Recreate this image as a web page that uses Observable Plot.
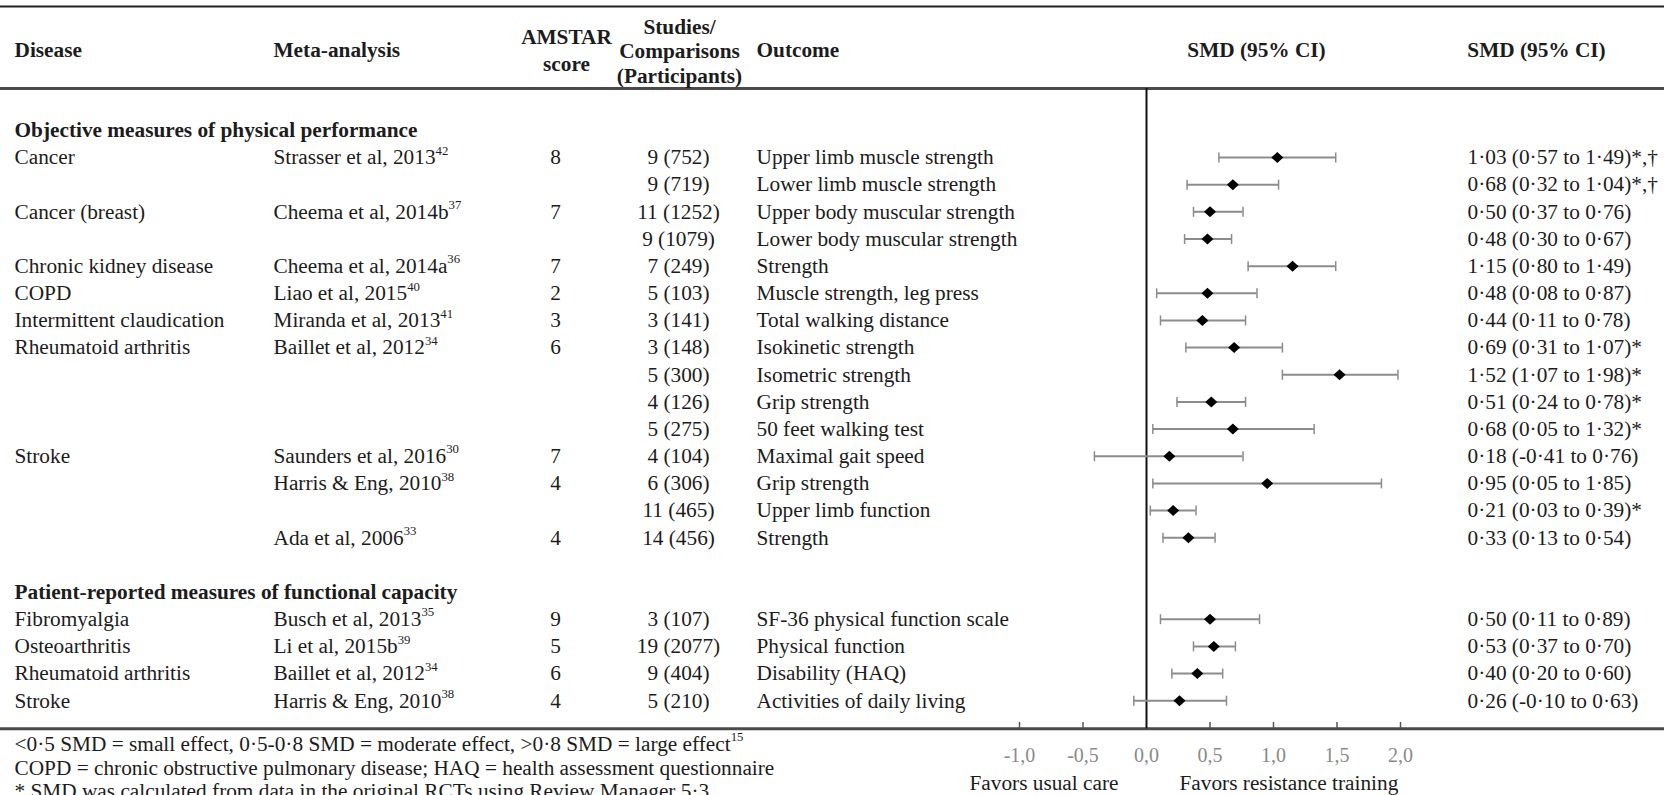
<!DOCTYPE html>
<html>
<head>
<meta charset="utf-8">
<script src="https://cdn.jsdelivr.net/npm/d3@7"></script>
<script src="https://cdn.jsdelivr.net/npm/@observablehq/plot@0.6"></script>
<style>
  html, body { margin: 0; padding: 0; background: #fff; }
  #chart svg { display: block; }
</style>
</head>
<body>
<div id="chart"></div>
<script>
// ---------------- data ----------------
const sections = ["Objective measures of physical performance", "Patient-reported measures of functional capacity"];
const group = [0,0,0,0,0,0,0,0,0,0,0,0,0,0,0, 1,1,1,1];
const disease = ["Cancer", "", "Cancer (breast)", "", "Chronic kidney disease", "COPD", "Intermittent claudication", "Rheumatoid arthritis", "", "", "", "Stroke", "", "", "",
                 "Fibromyalgia", "Osteoarthritis", "Rheumatoid arthritis", "Stroke"];
const metaAnalysis = ["Strasser et al, 2013^42", "", "Cheema et al, 2014b^37", "", "Cheema et al, 2014a^36", "Liao et al, 2015^40", "Miranda et al, 2013^41", "Baillet et al, 2012^34", "", "", "", "Saunders et al, 2016^30", "Harris & Eng, 2010^38", "", "Ada et al, 2006^33",
                      "Busch et al, 2013^35", "Li et al, 2015b^39", "Baillet et al, 2012^34", "Harris & Eng, 2010^38"];
const amstar = ["8", "", "7", "", "7", "2", "3", "6", "", "", "", "7", "4", "", "4", "9", "5", "6", "4"];
const studies = ["9 (752)", "9 (719)", "11 (1252)", "9 (1079)", "7 (249)", "5 (103)", "3 (141)", "3 (148)", "5 (300)", "4 (126)", "5 (275)", "4 (104)", "6 (306)", "11 (465)", "14 (456)",
                 "3 (107)", "19 (2077)", "9 (404)", "5 (210)"];
const outcome = ["Upper limb muscle strength", "Lower limb muscle strength", "Upper body muscular strength", "Lower body muscular strength", "Strength", "Muscle strength, leg press", "Total walking distance", "Isokinetic strength", "Isometric strength", "Grip strength", "50 feet walking test", "Maximal gait speed", "Grip strength", "Upper limb function", "Strength",
                 "SF-36 physical function scale", "Physical function", "Disability (HAQ)", "Activities of daily living"];
const smd = [1.03, 0.68, 0.50, 0.48, 1.15, 0.48, 0.44, 0.69, 1.52, 0.51, 0.68, 0.18, 0.95, 0.21, 0.33, 0.50, 0.53, 0.40, 0.26];
const lo  = [0.57, 0.32, 0.37, 0.30, 0.80, 0.08, 0.11, 0.31, 1.07, 0.24, 0.05, -0.41, 0.05, 0.03, 0.13, 0.11, 0.37, 0.20, -0.10];
const hi  = [1.49, 1.04, 0.76, 0.67, 1.49, 0.87, 0.78, 1.07, 1.98, 0.78, 1.32, 0.76, 1.85, 0.39, 0.54, 0.89, 0.70, 0.60, 0.63];
const note = ["*,†", "*,†", "", "", "", "", "", "*", "*", "*", "*", "", "", "*", "", "", "", "", ""];
const xTicks = [-1, -0.5, 0, 0.5, 1, 1.5, 2];
const favorLabels = ["Favors usual care", "Favors resistance training"];
const footnotes = [
  "<0·5 SMD = small effect, 0·5-0·8 SMD = moderate effect, >0·8 SMD = large effect^15",
  "COPD = chronic obstructive pulmonary disease; HAQ = health assessment questionnaire",
  "* SMD was calculated from data in the original RCTs using Review Manager 5·3"
];

// ---------------- layout helpers ----------------
const FONT = "'Liberation Serif', 'Times New Roman', Times, serif";
const FS = 21.3;
const INK = "#1c1c1c";
const fmt = v => v.toFixed(2).replace(".", "·");

const rows = smd.map((v, i) => ({
  row: i + 2 * group[i],
  disease: disease[i], meta: metaAnalysis[i], amstar: amstar[i], studies: studies[i], outcome: outcome[i],
  smd: v, lo: lo[i], hi: hi[i],
  ci: `${fmt(v)} (${fmt(lo[i])} to ${fmt(hi[i])})${note[i]}`
}));
const sectionRows = sections.map((s, g) => ({label: s, row: d3.min(rows.filter((r, i) => group[i] === g), r => r.row) - 1}));

const capSymbol = {draw(ctx) { ctx.moveTo(0, -5); ctx.lineTo(0, 5); }};
const diamondSymbol = {draw(ctx) { ctx.moveTo(0, -5.5); ctx.lineTo(6, 0); ctx.lineTo(0, 5.5); ctx.lineTo(-6, 0); ctx.closePath(); }};

const HEAD = -3.94;
const col = (dx, extra = {}) => ({frameAnchor: "left", dx, fontSize: FS, fill: INK, ...extra});

const chart = Plot.plot({
  width: 1664,
  height: 795,
  marginTop: 0, marginLeft: 0, marginRight: 0, marginBottom: 67,
  x: {domain: [-1, 2], range: [1019, 1400], label: null},
  y: {domain: [0, 1], range: [157, 157 + 27.16], axis: null},
  style: {fontFamily: FONT, fontSize: FS + "px", color: INK, background: "#fff", overflow: "visible"},
  marks: [
    Plot.ruleY([-5.56], {stroke: "#222", strokeWidth: 2}),
    Plot.ruleY([-2.54], {stroke: "#4a4a4a", strokeWidth: 3}),
    Plot.ruleY([21.03], {stroke: "#4a4a4a", strokeWidth: 3}),
    Plot.ruleX([0], {y1: -2.54, y2: 21.03, stroke: "#111", strokeWidth: 2}),
    Plot.ruleX(xTicks.filter(d => d !== 0), {x: d => d, y1: 20.8, y2: 21.03, stroke: "#555", strokeWidth: 1.5}),
    Plot.axisX({anchor: "bottom", ticks: xTicks, tickSize: 0, tickPadding: 19, label: null,
                tickFormat: d => d.toFixed(1).replace(".", ","), fontSize: 20, fill: "#8a8a8a"}),
    Plot.text([favorLabels[0]], {x: () => 0, y: () => 23.05, text: d => d, textAnchor: "end", dx: -28, fontSize: FS, fill: INK}),
    Plot.text([favorLabels[1]], {x: () => 0, y: () => 23.05, text: d => d, textAnchor: "start", dx: 33, fontSize: FS, fill: INK}),

    Plot.text(["Disease"], col(14, {y: () => HEAD, text: d => d, textAnchor: "start", fontWeight: "bold"})),
    Plot.text(["Meta-analysis"], col(273, {y: () => HEAD, text: d => d, textAnchor: "start", fontWeight: "bold"})),
    Plot.text(["AMSTAR\nscore"], col(566, {y: () => -4.0, text: d => d, textAnchor: "middle", fontWeight: "bold", lineHeight: 1.27})),
    Plot.text(["Studies/\nComparisons\n(Participants)"], col(679, {y: () => HEAD, text: d => d, textAnchor: "middle", fontWeight: "bold", lineHeight: 1.17})),
    Plot.text(["Outcome"], col(756, {y: () => HEAD, text: d => d, textAnchor: "start", fontWeight: "bold"})),
    Plot.text(["SMD (95% CI)"], col(1256, {y: () => HEAD, text: d => d, textAnchor: "middle", fontWeight: "bold"})),
    Plot.text(["SMD (95% CI)"], col(1536, {y: () => HEAD, text: d => d, textAnchor: "middle", fontWeight: "bold"})),

    Plot.text(sectionRows, col(14, {y: "row", text: "label", textAnchor: "start", fontWeight: "bold"})),

    Plot.text(rows, col(14, {y: "row", text: "disease", textAnchor: "start"})),
    Plot.text(rows, col(273, {y: "row", text: "meta", textAnchor: "start"})),
    Plot.text(rows, col(555, {y: "row", text: "amstar", textAnchor: "middle"})),
    Plot.text(rows, col(678, {y: "row", text: "studies", textAnchor: "middle"})),
    Plot.text(rows, col(756, {y: "row", text: "outcome", textAnchor: "start"})),
    Plot.text(rows, col(1467, {y: "row", text: "ci", textAnchor: "start"})),

    Plot.ruleY(rows, {y: "row", x1: "lo", x2: "hi", stroke: "#8c8c8c", strokeWidth: 2}),
    Plot.dot(rows, {x: "lo", y: "row", symbol: capSymbol, fill: "none", stroke: "#8c8c8c", strokeWidth: 1.5}),
    Plot.dot(rows, {x: "hi", y: "row", symbol: capSymbol, fill: "none", stroke: "#8c8c8c", strokeWidth: 1.5}),
    Plot.dot(rows, {x: "smd", y: "row", symbol: diamondSymbol, fill: "#000", stroke: "none"}),

    Plot.text(footnotes, col(14, {y: (d, i) => [21.6, 22.5, 23.33][i], text: d => d, textAnchor: "start"}))
  ]
});

chart.querySelectorAll("text").forEach(t => {
  if (t.children.length === 0 && t.textContent.includes("^")) {
    const [main, sup] = t.textContent.split("^");
    t.textContent = main;
    const ts = document.createElementNS("http://www.w3.org/2000/svg", "tspan");
    ts.setAttribute("font-size", "0.6em");
    ts.setAttribute("dy", "-0.75em");
    ts.textContent = sup;
    t.appendChild(ts);
  }
});

document.getElementById("chart").appendChild(chart);
</script>
</body>
</html>
